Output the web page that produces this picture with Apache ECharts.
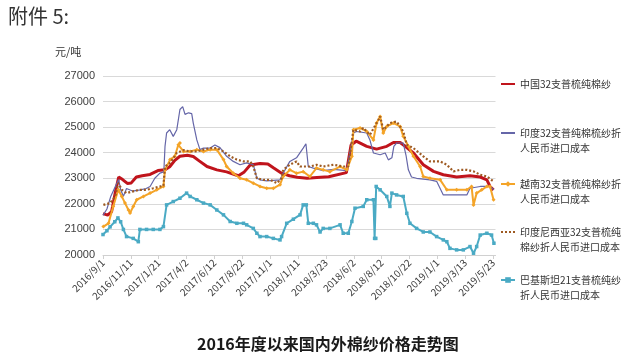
<!DOCTYPE html>
<html>
<head>
<meta charset="utf-8">
<script src="https://cdn.jsdelivr.net/npm/echarts@6/dist/echarts.min.js"></script>
<style>
html,body{margin:0;padding:0;background:#fff;}
#main{width:636px;height:360px;}
</style>
</head>
<body>
<div id="main"></div>
<script>
// ---------- data ----------
const xTickLabels = ['2016/9/1','2016/11/11','2017/1/21','2017/4/2','2017/6/12','2017/8/22','2017/11/1','2018/1/11','2018/3/23','2018/6/2','2018/8/12','2018/10/22','2019/1/1','2019/3/13','2019/5/23'];

const seriesNames = [
  '中国32支普梳纯棉纱',
  '印度32支普纯棉梳纱折\n人民币进口成本',
  '越南32支普梳纯棉纱折\n人民币进口成本',
  '印度尼西亚32支普梳纯\n棉纱折人民币进口成本',
  '巴基斯坦21支普梳纯纱\n折人民币进口成本'
];

const chinaDates = ['2016-09-01','2016-09-13','2016-09-23','2016-10-03','2016-10-11','2016-10-21','2016-11-02','2016-11-12','2016-11-25','2016-12-10','2016-12-30','2017-01-19','2017-02-06','2017-02-18','2017-03-03','2017-03-16','2017-04-04','2017-04-19','2017-05-04','2017-05-24','2017-06-18','2017-07-13','2017-08-02','2017-08-12','2017-08-27','2017-09-11','2017-10-06','2017-10-26','2017-11-10','2017-11-30','2017-12-20','2018-01-09','2018-02-03','2018-02-28','2018-03-30','2018-05-14','2018-05-26','2018-06-08','2018-07-05','2018-07-30','2018-08-25','2018-09-11','2018-09-28','2018-10-11','2018-11-01','2018-11-26','2018-12-22','2019-01-16','2019-02-19','2019-03-25','2019-04-20','2019-05-07','2019-05-15','2019-05-24'];
const chinaValues = [21620,21560,21700,22500,23050,22950,22800,22820,23050,23100,23150,23300,23330,23450,23700,23860,23900,23850,23680,23460,23330,23250,23150,23100,23250,23520,23580,23560,23400,23200,23100,23040,23000,23030,23060,23220,24300,24450,24250,24140,24250,24400,24400,24250,23990,23530,23270,23140,23050,23100,23050,22940,22680,22550];

const indiaDates = ['2016-09-01','2016-09-11','2016-09-21','2016-10-03','2016-10-11','2016-10-16','2016-10-23','2016-10-31','2016-11-15','2016-12-05','2016-12-20','2016-12-30','2017-01-11','2017-01-24','2017-02-03','2017-02-06','2017-02-10','2017-02-18','2017-02-27','2017-03-08','2017-03-16','2017-03-23','2017-03-29','2017-04-07','2017-04-15','2017-04-19','2017-04-28','2017-05-06','2017-05-15','2017-06-01','2017-06-13','2017-06-26','2017-07-13','2017-07-30','2017-08-16','2017-09-02','2017-09-19','2017-09-28','2017-10-06','2017-10-23','2017-11-09','2017-11-26','2017-12-04','2017-12-21','2018-01-07','2018-01-24','2018-01-31','2018-02-06','2018-02-19','2018-03-16','2018-04-11','2018-05-15','2018-05-23','2018-06-01','2018-06-09','2018-07-05','2018-07-13','2018-07-22','2018-08-08','2018-08-21','2018-08-29','2018-09-07','2018-09-12','2018-09-19','2018-10-06','2018-10-13','2018-10-19','2018-10-27','2018-11-09','2018-12-13','2018-12-30','2019-01-16','2019-02-19','2019-03-17','2019-03-25','2019-04-20','2019-05-15','2019-05-25'];
const indiaValues = [21550,21800,22300,22700,22950,22550,22300,22600,22500,22550,22600,22680,23000,23200,23250,24250,24770,24900,24640,24900,25690,25800,25500,25560,25530,25160,24500,24120,24180,24180,24300,24200,23860,23660,23530,23600,23530,23000,22940,22900,22920,22940,23200,23660,23800,24180,24350,23460,23400,23300,23350,23300,24000,24770,24830,24770,24500,23990,23920,23990,23720,23800,24250,24380,24380,23900,23330,23050,23000,22940,22880,22350,22350,22350,22610,22680,22680,22550];

const vietnamDates = ['2016-09-02','2016-09-15','2016-09-27','2016-10-10','2016-10-19','2016-10-27','2016-11-05','2016-11-09','2016-11-17','2016-11-26','2016-12-13','2016-12-30','2017-01-16','2017-02-02','2017-02-06','2017-02-19','2017-03-03','2017-03-12','2017-03-16','2017-03-25','2017-04-11','2017-04-28','2017-05-15','2017-06-01','2017-06-18','2017-07-05','2017-07-13','2017-07-30','2017-08-16','2017-09-02','2017-09-19','2017-10-06','2017-10-23','2017-11-09','2017-11-26','2017-12-04','2017-12-21','2018-01-07','2018-01-24','2018-02-10','2018-02-27','2018-03-16','2018-04-02','2018-04-28','2018-05-15','2018-05-28','2018-06-01','2018-06-18','2018-07-05','2018-07-22','2018-07-30','2018-08-08','2018-08-16','2018-08-25','2018-09-11','2018-09-28','2018-10-06','2018-10-19','2018-11-01','2018-11-18','2018-11-26','2018-12-13','2019-01-08','2019-01-25','2019-02-19','2019-03-17','2019-03-29','2019-04-03','2019-04-11','2019-04-24','2019-05-07','2019-05-15','2019-05-24'];
const vietnamValues = [21110,21240,21900,22550,22290,22030,21760,21640,21900,22160,22290,22420,22550,22680,23330,23730,23860,24310,24380,24050,24050,24120,24050,24120,24120,23730,23460,23200,23000,22940,22810,22680,22610,22610,22750,23070,23330,23200,23260,23070,23400,23330,23260,23460,23330,23860,24900,24970,24830,24500,25160,25420,24770,25030,25160,25030,24640,24250,23860,23460,23070,23000,22940,22550,22550,22550,22680,21960,22420,22550,22680,22680,22160];

const indonesiaDates = ['2016-09-02','2016-09-19','2016-10-02','2016-10-10','2016-10-19','2016-10-31','2016-11-17','2016-12-04','2016-12-21','2017-01-07','2017-01-24','2017-02-02','2017-02-06','2017-02-19','2017-03-08','2017-03-25','2017-04-11','2017-04-28','2017-05-15','2017-06-01','2017-06-18','2017-07-05','2017-07-22','2017-08-08','2017-08-25','2017-09-11','2017-09-19','2017-09-28','2017-10-15','2017-11-01','2017-11-18','2017-11-30','2017-12-04','2017-12-21','2018-01-07','2018-01-16','2018-02-10','2018-02-27','2018-03-16','2018-04-11','2018-05-06','2018-05-19','2018-06-01','2018-06-18','2018-06-26','2018-07-13','2018-08-04','2018-08-08','2018-08-16','2018-08-25','2018-09-02','2018-09-19','2018-10-06','2018-10-15','2018-11-01','2018-11-26','2018-12-13','2019-01-08','2019-01-25','2019-02-11','2019-02-28','2019-03-17','2019-04-03','2019-04-20','2019-05-07','2019-05-24'];
const indonesiaValues = [21960,22030,22290,22810,22550,22420,22490,22550,22550,22610,22680,22710,23460,23600,23990,24100,24050,24050,24120,24180,24180,24050,23860,23730,23660,23660,23460,23000,22940,22940,22810,23000,23330,23530,23660,23460,23460,23530,23460,23530,23460,23460,24900,24830,24970,24700,25290,25420,24900,25030,25160,25220,24830,24310,24180,23860,23660,23660,23530,23270,23330,23330,23270,23140,23070,22880];

const pakistanDates = ['2016-09-01','2016-09-11','2016-09-19','2016-10-01','2016-10-09','2016-10-16','2016-10-23','2016-10-31','2016-11-17','2016-11-30','2016-12-04','2016-12-21','2017-01-07','2017-01-24','2017-02-02','2017-02-10','2017-02-27','2017-03-16','2017-04-02','2017-04-11','2017-04-28','2017-05-15','2017-06-01','2017-06-18','2017-07-05','2017-07-22','2017-08-08','2017-08-25','2017-09-02','2017-09-19','2017-09-28','2017-10-06','2017-10-23','2017-11-09','2017-11-26','2017-11-30','2017-12-13','2017-12-30','2018-01-16','2018-01-24','2018-02-01','2018-02-06','2018-02-19','2018-02-27','2018-03-08','2018-03-16','2018-04-02','2018-04-28','2018-05-06','2018-05-19','2018-05-28','2018-06-05','2018-06-26','2018-07-05','2018-07-22','2018-07-25','2018-07-28','2018-07-29','2018-08-08','2018-08-25','2018-09-02','2018-09-07','2018-09-19','2018-10-06','2018-10-15','2018-10-23','2018-11-09','2018-11-26','2018-12-13','2018-12-30','2019-01-16','2019-01-25','2019-02-02','2019-02-19','2019-03-08','2019-03-25','2019-04-03','2019-04-11','2019-04-20','2019-05-07','2019-05-19','2019-05-25'];
const pakistanValues = [20800,20950,21100,21300,21450,21300,21000,20720,20650,20520,21000,21000,21000,21000,21110,21960,22090,22220,22420,22290,22160,22030,21960,21760,21570,21310,21240,21240,21180,21040,20850,20720,20720,20650,20590,20720,21240,21400,21570,21960,21960,21240,21240,21180,20900,21040,21040,21180,20850,20850,21310,21830,21900,22160,22160,20650,20650,22680,22550,22290,21900,22420,22350,22290,21630,21240,21040,20900,20900,20720,20590,20520,20260,20200,20200,20330,20070,20330,20780,20850,20780,20460];

// ---------- helpers ----------
const BASE = Date.UTC(2016, 8, 1);
function dayOf(s) {
  const p = s.split('-').map(Number);
  return Math.round((Date.UTC(p[0], p[1] - 1, p[2]) - BASE) / 864e5);
}
function pairs(dates, vals) { return dates.map((d, i) => [dayOf(d), vals[i]]); }

const FONT = '"Noto Sans CJK SC", "Liberation Sans", sans-serif';

const styles = [
  { color: '#C0141C', width: 3, type: 'solid', symbol: 'none', size: 0 },
  { color: '#6566A8', width: 1.2, type: 'solid', symbol: 'none', size: 0 },
  { color: '#F4A428', width: 2, type: 'solid', symbol: 'diamond', size: 4 },
  { color: '#9E5A22', width: 2.2, type: [2, 2], symbol: 'none', size: 0 },
  { color: '#4AAAC4', width: 2, type: 'solid', symbol: 'rect', size: 3.5 }
];
const allData = [
  pairs(chinaDates, chinaValues),
  pairs(indiaDates, indiaValues),
  pairs(vietnamDates, vietnamValues),
  pairs(indonesiaDates, indonesiaValues),
  pairs(pakistanDates, pakistanValues)
];

const series = seriesNames.map((name, i) => ({
  name: name,
  type: 'line',
  data: allData[i],
  symbol: styles[i].symbol,
  symbolSize: styles[i].size,
  showAllSymbol: true,
  lineStyle: { color: styles[i].color, width: styles[i].width, type: styles[i].type },
  itemStyle: { color: styles[i].color },
  z: 2 + i
}));

// one legend per item so each can be placed exactly
const legendTops = [76.5, 110.5, 161.5, 209.5, 257.5];
const legends = seriesNames.map((name, i) => ({
  data: [name],
  orient: 'vertical',
  left: 500,
  top: legendTops[i],
  padding: 0,
  itemWidth: 14,
  itemHeight: 7,
  itemStyle: styles[i].symbol === 'none' ? { opacity: 0 } : {},
  formatter: n => (n.indexOf('\n') >= 0 ? '\n' + n : n),
  textStyle: { fontSize: 10, color: '#333', fontFamily: FONT, lineHeight: 15 },
  selectedMode: false
}));

const chart = echarts.init(document.getElementById('main'), null, { renderer: 'canvas' });
chart.setOption({
  animation: false,
  backgroundColor: '#fff',
  title: {
    text: '2016年度以来国内外棉纱价格走势图',
    left: 197, top: 336, padding: 0,
    textStyle: { fontSize: 16, fontWeight: 'bold', color: '#1a1a1a', fontFamily: FONT }
  },
  graphic: [
    { type: 'text', left: 8, top: 6, style: { text: '附件 5:', fontSize: 20, fill: '#333', fontFamily: FONT } },
    { type: 'text', left: 55, top: 46, style: { text: '元/吨', fontSize: 11, fill: '#333', fontFamily: FONT } }
  ],
  legend: legends,
  grid: { left: 103, right: 140.5, top: 76, bottom: 105, containLabel: false },
  xAxis: {
    type: 'value',
    min: 0, max: 1000, interval: 71,
    axisLine: { show: true, lineStyle: { color: '#d0d0d0' } },
    axisTick: { show: true, length: 4, lineStyle: { color: '#d0d0d0' } },
    splitLine: { show: false },
    axisLabel: {
      rotate: 45, fontSize: 10, color: '#404040', margin: 6, fontFamily: FONT,
      showMaxLabel: false,
      formatter: v => xTickLabels[Math.round(v / 71)] || ''
    }
  },
  yAxis: {
    type: 'value',
    min: 20000, max: 27000, interval: 1000,
    axisLine: { show: false },
    axisTick: { show: false },
    splitLine: { lineStyle: { color: '#d9d9d9' } },
    axisLabel: { fontSize: 11, color: '#404040', margin: 8, fontFamily: '"Liberation Sans", sans-serif', formatter: v => String(v) }
  },
  series: series
});
</script>
</body>
</html>
